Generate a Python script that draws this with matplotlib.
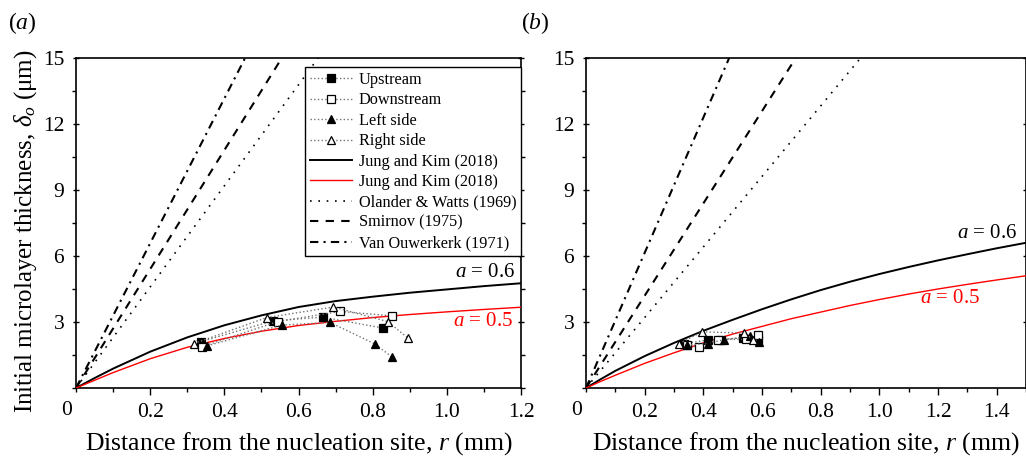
import numpy as np
import matplotlib
matplotlib.use('Agg')
import matplotlib.pyplot as plt
from matplotlib.ticker import MultipleLocator, FixedLocator

plt.rcParams['font.family'] = ['Liberation Serif', 'DejaVu Serif']
plt.rcParams['mathtext.fontset'] = 'custom'
plt.rcParams['mathtext.rm'] = 'Liberation Serif'
plt.rcParams['mathtext.it'] = 'Liberation Serif:italic'

# ---- panel (a) data ----
up_r_a = [0.336, 0.530, 0.665, 0.829]
up_d_a = [2.10, 3.05, 3.22, 2.72]
down_r_a = [0.340, 0.544, 0.712, 0.851]
down_d_a = [1.88, 3.02, 3.48, 3.28]
left_r_a = [0.354, 0.555, 0.685, 0.806, 0.851]
left_d_a = [1.92, 2.86, 2.98, 2.00, 1.42]
right_r_a = [0.318, 0.514, 0.694, 0.840, 0.896]
right_d_a = [2.02, 3.20, 3.68, 3.02, 2.26]

curve_r_a = [0, 0.05, 0.1, 0.2, 0.3, 0.4, 0.5, 0.6, 0.7, 0.8, 0.9, 1.0, 1.1, 1.2]
jk06_a = [0, 0.45, 0.88, 1.65, 2.3, 2.85, 3.3, 3.68, 3.95, 4.15, 4.33, 4.48, 4.63, 4.76]
jk05_a = [0, 0.35, 0.7, 1.33, 1.85, 2.25, 2.58, 2.84, 3.03, 3.2, 3.34, 3.46, 3.57, 3.67]

# straight-line correlations: (r, delta) end points
olander_r_a = [0, 0.653]
smirnov_r_a = [0, 0.555]
ouwerkerk_r_a = [0, 0.456]
line_d = [0, 15]

# ---- panel (b) data ----
up_r_b = [0.335, 0.415, 0.460, 0.535, 0.585]
up_d_b = [2.02, 2.18, 2.20, 2.28, 2.18]
down_r_b = [0.345, 0.385, 0.450, 0.545, 0.585]
down_d_b = [1.95, 1.88, 2.20, 2.22, 2.40]
left_r_b = [0.345, 0.415, 0.470, 0.560, 0.590]
left_d_b = [1.95, 2.02, 2.20, 2.35, 2.08]
right_r_b = [0.318, 0.395, 0.540, 0.570]
right_d_b = [2.02, 2.55, 2.50, 2.20]

curve_r_b = [0, 0.05, 0.1, 0.2, 0.3, 0.4, 0.5, 0.6, 0.7, 0.8, 0.9, 1.0, 1.1, 1.2, 1.3, 1.4, 1.5]
jk06_b = [0, 0.4, 0.78, 1.45, 2.05, 2.6, 3.1, 3.58, 4.03, 4.45, 4.83, 5.18, 5.5, 5.8, 6.08, 6.35, 6.6]
jk05_b = [0, 0.3, 0.58, 1.12, 1.6, 2.05, 2.45, 2.8, 3.15, 3.45, 3.75, 4.02, 4.27, 4.5, 4.71, 4.91, 5.1]

olander_r_b = [0, 0.936]
smirnov_r_b = [0, 0.715]
ouwerkerk_r_b = [0, 0.488]

fig = plt.figure(figsize=(10.26, 4.62), dpi=100)
ax_a = fig.add_axes([0.0741, 0.1602, 0.4337, 0.7143])
ax_b = fig.add_axes([0.5712, 0.1602, 0.4288, 0.7143])

line_color_pts = '0.45'


def draw_panel(ax, up, down, left, right, cr, j6, j5, ol, sm, ow, xmax):
    for (r, d), m, fc, lab in [(up, 's', 'k', 'Upstream'),
                               (down, 's', 'w', 'Downstream'),
                               (left, '^', 'k', 'Left side'),
                               (right, '^', 'w', 'Right side')]:
        ax.plot(r, d, ls=':', color=line_color_pts, lw=1.0, marker=m, ms=6,
                mfc=fc, mec='k', mew=0.9, label=lab, zorder=4)
    ax.plot(cr, j6, color='k', lw=1.4, label='Jung and Kim (2018)', zorder=3)
    ax.plot(cr, j5, color='#ff0000', lw=1.0, label='Jung and Kim (2018)', zorder=3)
    ax.plot(ol, line_d, color='k', lw=1.2, ls=(0, (1, 4)), label='Olander & Watts (1969)')
    ax.plot(sm, line_d, color='k', lw=1.5, ls=(0, (4, 3.5)), label='Smirnov (1975)')
    ax.plot(ow, line_d, color='k', lw=1.5, ls=(0, (4, 2.5, 1, 2.5)), label='Van Ouwerkerk (1971)')

    ax.set_xlim(0, xmax)
    ax.set_ylim(0, 15)
    ax.xaxis.set_major_locator(FixedLocator(np.arange(0.2, xmax + 0.01, 0.2)))
    ax.xaxis.set_minor_locator(MultipleLocator(0.1))
    ax.yaxis.set_major_locator(FixedLocator([3, 6, 9, 12, 15]))
    ax.yaxis.set_minor_locator(MultipleLocator(1.5))
    ax.xaxis.set_major_formatter(plt.FuncFormatter(lambda v, p: '%.1f' % v))
    ax.yaxis.set_major_formatter(plt.FuncFormatter(lambda v, p: '%d' % round(v)))
    ax.tick_params(axis='both', which='major', direction='out', length=5, width=1,
                   labelsize=15.5, pad=6)
    ax.tick_params(axis='both', which='minor', direction='out', length=3, width=1)
    ax.tick_params(axis='y', which='both', right=True, labelright=False)
    ax.tick_params(axis='y', which='major', direction='inout', length=5)
    for s in ax.spines.values():
        s.set_linewidth(1.2)
    ax.text(-0.01, -0.068, '0', transform=ax.transAxes, ha='right', va='center', fontsize=15.5)
    ax.set_xlabel(r'Distance from the nucleation site, $r$ (mm)', fontsize=18.5, labelpad=6)


draw_panel(ax_a, (up_r_a, up_d_a), (down_r_a, down_d_a), (left_r_a, left_d_a),
           (right_r_a, right_d_a), curve_r_a, jk06_a, jk05_a,
           olander_r_a, smirnov_r_a, ouwerkerk_r_a, 1.2)
draw_panel(ax_b, (up_r_b, up_d_b), (down_r_b, down_d_b), (left_r_b, left_d_b),
           (right_r_b, right_d_b), curve_r_b, jk06_b, jk05_b,
           olander_r_b, smirnov_r_b, ouwerkerk_r_b, 1.5)

ax_a.set_ylabel(r'Initial microlayer thickness, $\delta_o$ ($\mathrm{\mu}$m)', fontsize=18)
ax_a.yaxis.set_label_coords(-0.083, 0.474)

leg = ax_a.legend(loc='upper right', bbox_to_anchor=(1.0, 0.972), fontsize=11.7,
                  frameon=True, fancybox=False, edgecolor='k', framealpha=1,
                  handlelength=2.6, handletextpad=0.4, labelspacing=0.27,
                  borderpad=0.3, borderaxespad=0.0)
leg.get_frame().set_linewidth(1.0)

ax_a.text(1.185, 5.27, r'$a$ = 0.6', ha='right', va='center', fontsize=15, color='k')
ax_a.text(1.178, 3.0, r'$a$ = 0.5', ha='right', va='center', fontsize=15, color='#ff0000')
ax_b.text(1.47, 7.0, r'$a$ = 0.6', ha='right', va='center', fontsize=15, color='k')
ax_b.text(1.343, 4.05, r'$a$ = 0.5', ha='right', va='center', fontsize=15, color='#ff0000')

fig.text(0.008, 0.95, r'($a$)', fontsize=17, ha='left', va='center')
fig.text(0.508, 0.95, r'($b$)', fontsize=17, ha='left', va='center')

fig.savefig('out.png', dpi=100)
